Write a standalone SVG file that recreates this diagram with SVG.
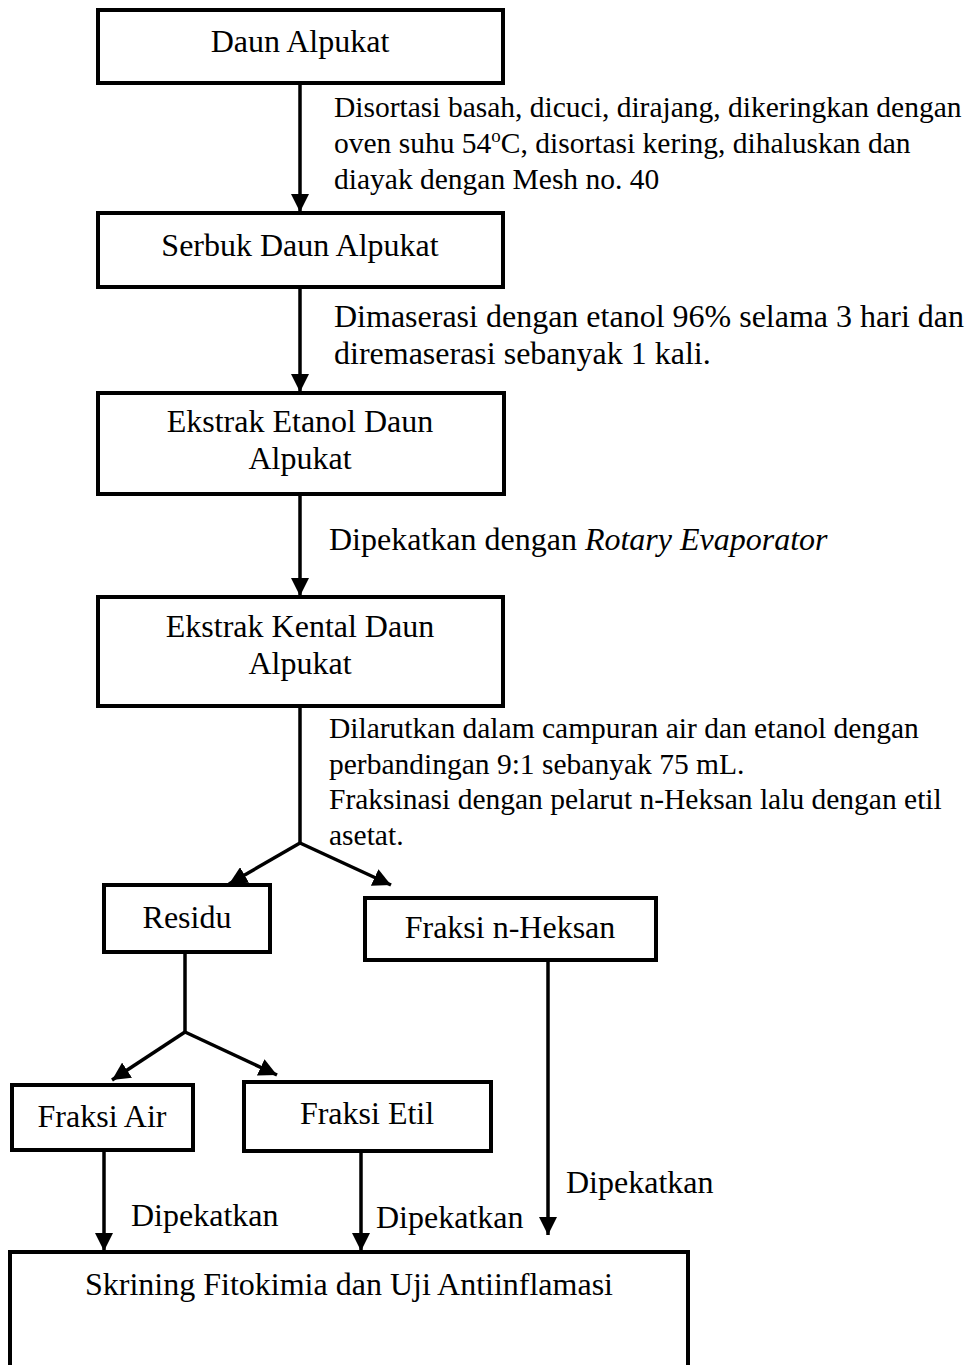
<svg xmlns="http://www.w3.org/2000/svg" width="970" height="1365" viewBox="0 0 970 1365">
<style>
.box{fill:#fff;stroke:#000;stroke-width:4}
.t{font-family:"Liberation Serif","Times New Roman",serif;font-size:32px;fill:#000}
.c{text-anchor:middle}
.s{font-size:29.5px}
.ln{fill:none;stroke:#000;stroke-width:3.5}
</style>
<defs>
<marker id="ah" viewBox="0 0 10 10" refX="10" refY="5" markerWidth="18" markerHeight="18" markerUnits="userSpaceOnUse" orient="auto">
<path d="M0,0 L10,5 L0,10 z" fill="#000"/>
</marker>
</defs>
<rect width="970" height="1365" fill="#fff"/>
<g id="connectors">
<path class="ln" d="M300,83 V212" marker-end="url(#ah)"/>
<path class="ln" d="M300,287 V392" marker-end="url(#ah)"/>
<path class="ln" d="M300,494 V596" marker-end="url(#ah)"/>
<path class="ln" d="M300,706 V843"/>
<path class="ln" d="M300,843 L229,884" marker-end="url(#ah)"/>
<path class="ln" d="M300,843 L391,885" marker-end="url(#ah)"/>
<path class="ln" d="M185,952 V1032"/>
<path class="ln" d="M185,1032 L112,1080" marker-end="url(#ah)"/>
<path class="ln" d="M185,1032 L277,1075" marker-end="url(#ah)"/>
<path class="ln" d="M548,960 V1235" marker-end="url(#ah)"/>
<path class="ln" d="M104,1150 V1251" marker-end="url(#ah)"/>
<path class="ln" d="M361,1151 V1251" marker-end="url(#ah)"/>
</g>
<g id="labels">
<text class="t s" x="334" y="117">Disortasi basah, dicuci, dirajang, dikeringkan dengan</text>
<text class="t s" x="334" y="153">oven suhu 54<tspan font-size="19" dy="-11">o</tspan><tspan dy="11">C, disortasi kering, dihaluskan dan</tspan></text>
<text class="t s" x="334" y="189">diayak dengan Mesh no. 40</text>
<text class="t" x="334" y="327">Dimaserasi dengan etanol 96% selama 3 hari dan</text>
<text class="t" x="334" y="364">diremaserasi sebanyak 1 kali.</text>
<text class="t" x="329" y="550">Dipekatkan dengan <tspan font-style="italic">Rotary Evaporator</tspan></text>
<text class="t s" x="329" y="738">Dilarutkan dalam campuran air dan etanol dengan</text>
<text class="t s" x="329" y="774">perbandingan 9:1 sebanyak 75 mL.</text>
<text class="t s" x="329" y="809">Fraksinasi dengan pelarut n-Heksan lalu dengan etil</text>
<text class="t s" x="329" y="845">asetat.</text>
<text class="t" x="566" y="1193">Dipekatkan</text>
<text class="t" x="131" y="1226">Dipekatkan</text>
<text class="t" x="376" y="1228">Dipekatkan</text>
</g>
<g id="daun-alpukat">
<rect class="box" x="98" y="10" width="405" height="73"/>
<text class="t c" x="300" y="52">Daun Alpukat</text>
</g>
<g id="serbuk">
<rect class="box" x="98" y="213" width="405" height="74"/>
<text class="t c" x="300" y="256">Serbuk Daun Alpukat</text>
</g>
<g id="ekstrak-etanol">
<rect class="box" x="98" y="393" width="406" height="101"/>
<text class="t c" x="300" y="432">Ekstrak Etanol Daun</text>
<text class="t c" x="300" y="469">Alpukat</text>
</g>
<g id="ekstrak-kental">
<rect class="box" x="98" y="597" width="405" height="109"/>
<text class="t c" x="300" y="637">Ekstrak Kental Daun</text>
<text class="t c" x="300" y="674">Alpukat</text>
</g>
<g id="residu">
<rect class="box" x="104" y="885" width="166" height="67"/>
<text class="t c" x="187" y="928">Residu</text>
</g>
<g id="fraksi-nheksan">
<rect class="box" x="365" y="898" width="291" height="62"/>
<text class="t c" x="510" y="938">Fraksi n-Heksan</text>
</g>
<g id="fraksi-air">
<rect class="box" x="12" y="1085" width="181" height="65"/>
<text class="t c" x="102" y="1127">Fraksi Air</text>
</g>
<g id="fraksi-etil">
<rect class="box" x="244" y="1082" width="247" height="69"/>
<text class="t c" x="367" y="1124">Fraksi Etil</text>
</g>
<g id="skrining">
<rect class="box" x="10" y="1252" width="678" height="140"/>
<text class="t c" x="349" y="1295">Skrining Fitokimia dan Uji Antiinflamasi</text>
</g>
</svg>
